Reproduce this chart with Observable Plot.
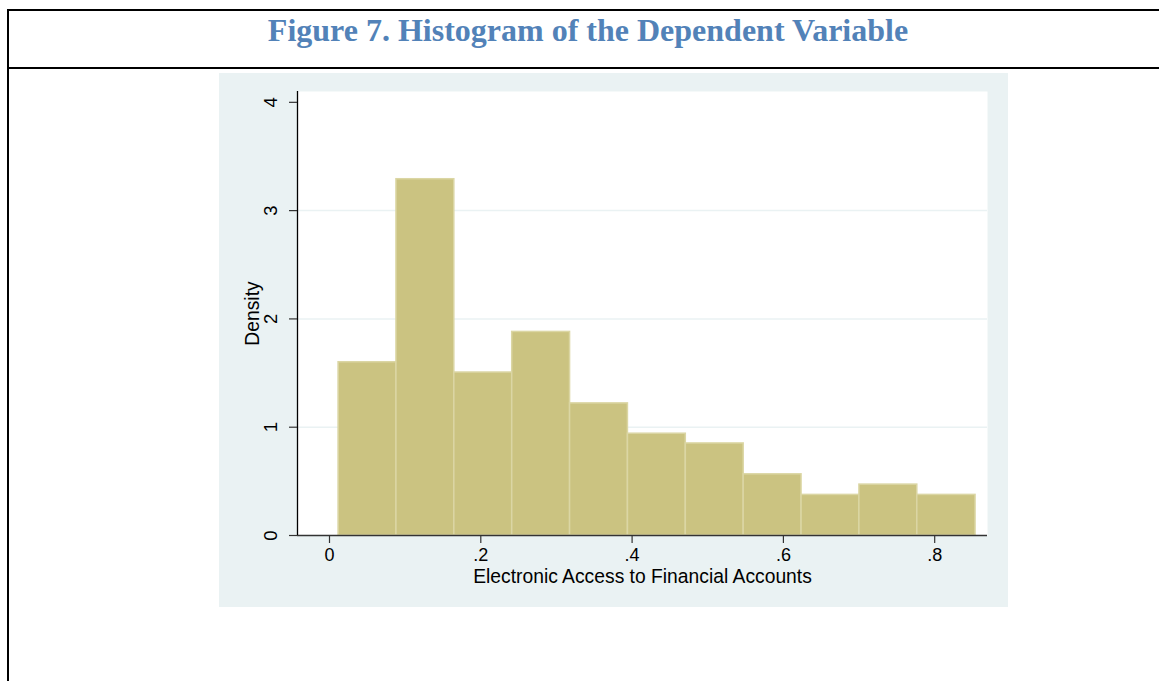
<!DOCTYPE html>
<html>
<head>
<meta charset="utf-8">
<script src="https://cdn.jsdelivr.net/npm/d3@7"></script>
<script src="https://cdn.jsdelivr.net/npm/@observablehq/plot@0.6"></script>
<style>
  html, body { margin: 0; padding: 0; background: #fff; }
  body { width: 1159px; height: 681px; position: relative; overflow: hidden; }
  #box { position: absolute; left: 7px; top: 9px; width: 1200px; height: 700px;
         border-top: 2px solid #000; border-left: 2px solid #000; box-sizing: border-box; }
  #divider { position: absolute; left: 7px; top: 67px; width: 1200px; height: 2px; background: #000; }
  #title { position: absolute; left: 9px; top: 14px; width: 1158px; text-align: center;
           font-family: "Liberation Serif", "Times New Roman", serif; font-weight: bold;
           font-size: 32px; line-height: 32px; color: #5282b8; white-space: nowrap; }
  #chart { position: absolute; left: 219px; top: 73px; }
</style>
</head>
<body>
<div id="box"></div>
<div id="divider"></div>
<div id="title">Figure 7. Histogram of the Dependent Variable</div>
<div id="chart"></div>
<script>
// Histogram bin edges
const binEdges = [0.012, 0.0885, 0.165, 0.2415, 0.318, 0.3945, 0.471, 0.5475, 0.624, 0.7005, 0.777, 0.854];
// Density of each bin
const densities = [1.60, 3.29, 1.505, 1.88, 1.22, 0.94, 0.85, 0.565, 0.375, 0.47, 0.375];

const xTicks = [0, 0.2, 0.4, 0.6, 0.8];
const xTickLabels = ["0", ".2", ".4", ".6", ".8"];
const yTicks = [0, 1, 2, 3, 4];
const yTickLabels = ["0", "1", "2", "3", "4"];
const yGrid = [1, 2, 3];
const xTitle = "Electronic Access to Financial Accounts";
const yTitle = "Density";
const xDomain = [-0.0423, 0.8698];
const yDomain = [0, 4.1];

const bins = densities.map((d, i) => ({x1: binEdges[i], x2: binEdges[i + 1], density: d}));

const chart = Plot.plot({
  width: 789,
  height: 534,
  marginLeft: 78,
  marginRight: 21,
  marginTop: 18,
  marginBottom: 72,
  style: {
    background: "#eaf2f3",
    fontFamily: "'Liberation Sans', Arial, sans-serif",
    fontSize: "18px",
    color: "#000"
  },
  x: {domain: xDomain},
  y: {domain: yDomain},
  marks: [
    Plot.frame({fill: "#fff", stroke: null}),
    Plot.gridY(yGrid, {stroke: "#eaf2f3", strokeOpacity: 1, strokeWidth: 1.5}),
    Plot.rectY(bins, {x1: "x1", x2: "x2", y: "density", fill: "#cbc381", stroke: "#dbd6a4", strokeWidth: 1.5}),
    Plot.ruleY([0], {stroke: "#333", strokeWidth: 1.3}),
    Plot.ruleX([xDomain[0]], {stroke: "#000", strokeWidth: 1.3}),
    Plot.axisX({ticks: xTicks, tickSize: 8, tickFormat: () => "", label: null, stroke: "#333", strokeWidth: 1.2}),
    Plot.axisY({ticks: yTicks, tickSize: 8, tickFormat: () => "", label: null, stroke: "#333", strokeWidth: 1.2}),
    Plot.text(xTicks, {x: d => d, frameAnchor: "bottom", dy: 19.5, lineAnchor: "middle", textAnchor: "middle",
      text: (d, i) => xTickLabels[i], fill: "#000", fontSize: 18}),
    Plot.text(yTicks, {y: d => d, frameAnchor: "left", dx: -26, rotate: -90, lineAnchor: "middle", textAnchor: "middle",
      text: (d, i) => yTickLabels[i], fill: "#000", fontSize: 18.5}),
    Plot.text([xTitle], {frameAnchor: "bottom", dy: 41.5, lineAnchor: "middle", textAnchor: "middle",
      text: d => d, fill: "#000", fontSize: 19.3}),
    Plot.text([yTitle], {frameAnchor: "left", dx: -45, rotate: -90, lineAnchor: "middle", textAnchor: "middle",
      text: d => d, fill: "#000", fontSize: 19.3})
  ]
});
document.getElementById("chart").appendChild(chart);
</script>
</body>
</html>
